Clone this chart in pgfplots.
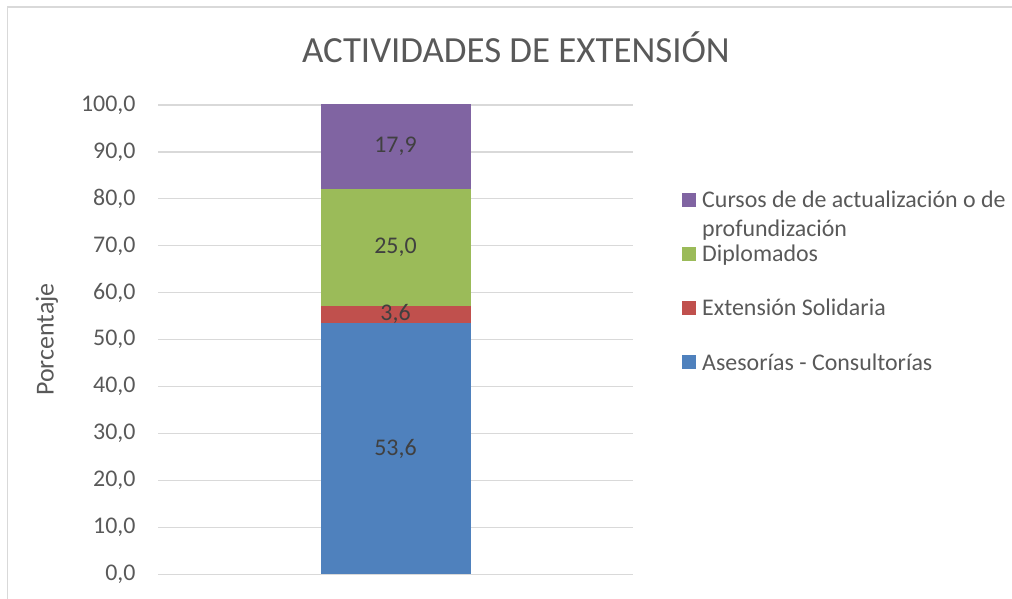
\documentclass[border=0pt]{standalone}
\usepackage{pgfplots}
\pgfplotsset{compat=1.18}
\usepackage{fontspec}
\setmainfont{Carlito}
\definecolor{txt}{RGB}{89,89,89}
\definecolor{lbl}{RGB}{64,64,64}
\definecolor{grd}{RGB}{217,217,217}
\definecolor{cblue}{RGB}{79,129,189}
\definecolor{cred}{RGB}{192,80,77}
\definecolor{cgreen}{RGB}{155,187,89}
\definecolor{cpurple}{RGB}{128,100,162}
\begin{document}
\begin{tikzpicture}[x=1bp,y=1bp]
\useasboundingbox (0,0) rectangle (1012,599);
\draw[grd,line width=1.5bp] (7.5,0) -- (7.5,592) -- (1012,592);
\node[txt,font=\fontsize{37}{42}\selectfont] at (516,552) {ACTIVIDADES DE EXTENSIÓN};
\begin{axis}[
  at={(158bp,24.5bp)}, anchor=south west,
  scale only axis, width=475bp, height=470bp,
  ybar stacked, bar width=150bp,
  xmin=-1, xmax=1, ymin=0, ymax=100.1,
  clip=false,
  xtick=\empty,
  ytick={0,10,...,100},
  ymajorgrids, grid style={grd,line width=1.2bp},
  axis line style={draw=none},
  major tick length=0pt,
  yticklabel style={txt,font=\fontsize{24}{27}\selectfont, xshift=-19bp,
    /pgf/number format/fixed, /pgf/number format/fixed zerofill, /pgf/number format/precision=1,
    /pgf/number format/use comma, /pgf/number format/assume math mode=true},
  ylabel={Porcentaje},
  ylabel style={txt,font=\fontsize{26}{29}\selectfont, at={(axis description cs:-0.2337,0.5)}, anchor=center},
  point meta=explicit,
  nodes near coords,
  nodes near coords style={lbl,font=\fontsize{24}{27}\selectfont, anchor=center,
    /pgf/number format/fixed, /pgf/number format/fixed zerofill, /pgf/number format/precision=1,
    /pgf/number format/use comma, /pgf/number format/assume math mode=true},
  legend cell align=left,
  reverse legend,
  legend style={draw=none, fill=none, at={(1.1032,0.8202)}, anchor=north west, inner sep=0pt,
    font=\fontsize{24}{27}\selectfont, text=txt, row sep=32bp},
  legend image code/.code={\fill[#1,draw=none] (0bp,-7bp) rectangle (14bp,7bp);\path (18bp,0bp);},
]
\addplot[fill=cblue,draw=none] coordinates {(0,53.6) [53.6]};
\addlegendentry{Asesorías - Consultorías}
\addplot[fill=cred,draw=none] coordinates {(0,3.6) [3.6]};
\addlegendentry{Extensión Solidaria}
\addplot[fill=cgreen,draw=none] coordinates {(0,25.0) [25.0]};
\addlegendentry{Diplomados}
\addplot[fill=cpurple,draw=none] coordinates {(0,17.9) [17.9]};
\addlegendentry{\vphantom{Cursos de de actualización o dep}\smash{\begin{tabular}[t]{@{}l@{}}Cursos de de actualización o de\\[2bp]profundización\end{tabular}}}
\end{axis}
\end{tikzpicture}
\end{document}
